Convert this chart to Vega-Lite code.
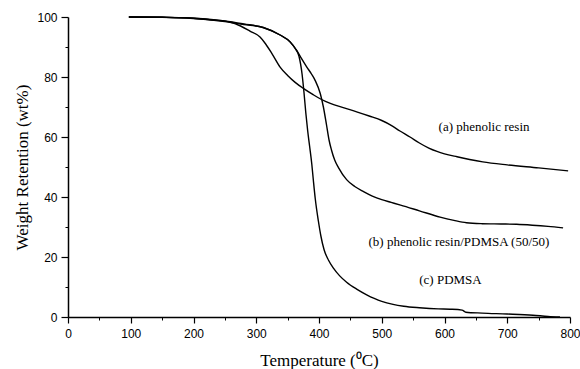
{
  "$schema": "https://vega.github.io/schema/vega-lite/v6.json",
  "width": 502,
  "height": 300,
  "autosize": {"type": "none"},
  "padding": {"left": 68, "top": 17, "right": 10, "bottom": 52},
  "background": "white",
  "config": {"view": {"stroke": null}},
  "datasets": {
    "curves": [
      {"series": "a", "T": 97, "W": 100}, {"series": "a", "T": 150, "W": 99.9}, {"series": "a", "T": 200, "W": 99.5}, {"series": "a", "T": 230, "W": 99}, {"series": "a", "T": 258, "W": 98.3}, {"series": "a", "T": 275, "W": 97}, {"series": "a", "T": 290, "W": 95.3}, {"series": "a", "T": 306, "W": 93.3}, {"series": "a", "T": 315, "W": 91}, {"series": "a", "T": 325, "W": 87.8}, {"series": "a", "T": 338, "W": 83.3}, {"series": "a", "T": 350, "W": 80.5}, {"series": "a", "T": 362, "W": 78.2}, {"series": "a", "T": 375, "W": 76.2}, {"series": "a", "T": 390, "W": 74.2}, {"series": "a", "T": 404, "W": 72.5}, {"series": "a", "T": 418, "W": 71.2}, {"series": "a", "T": 440, "W": 69.7}, {"series": "a", "T": 460, "W": 68.4}, {"series": "a", "T": 480, "W": 67}, {"series": "a", "T": 500, "W": 65.5}, {"series": "a", "T": 515, "W": 63.9}, {"series": "a", "T": 529, "W": 62.0}, {"series": "a", "T": 545, "W": 60.0}, {"series": "a", "T": 560, "W": 58}, {"series": "a", "T": 575, "W": 56.3}, {"series": "a", "T": 588, "W": 55.2}, {"series": "a", "T": 600, "W": 54.4}, {"series": "a", "T": 620, "W": 53.4}, {"series": "a", "T": 640, "W": 52.5}, {"series": "a", "T": 661, "W": 51.7}, {"series": "a", "T": 700, "W": 50.7}, {"series": "a", "T": 750, "W": 49.7}, {"series": "a", "T": 797, "W": 48.7},
      {"series": "b", "T": 97, "W": 100}, {"series": "b", "T": 150, "W": 99.9}, {"series": "b", "T": 200, "W": 99.6}, {"series": "b", "T": 250, "W": 98.5}, {"series": "b", "T": 280, "W": 97.5}, {"series": "b", "T": 311, "W": 96.5}, {"series": "b", "T": 338, "W": 94}, {"series": "b", "T": 354, "W": 91.7}, {"series": "b", "T": 364.5, "W": 88.9}, {"series": "b", "T": 372, "W": 86.2}, {"series": "b", "T": 380.6, "W": 83.3}, {"series": "b", "T": 388, "W": 81}, {"series": "b", "T": 394, "W": 78.8}, {"series": "b", "T": 402, "W": 74.5}, {"series": "b", "T": 407, "W": 70}, {"series": "b", "T": 412, "W": 64}, {"series": "b", "T": 416, "W": 59}, {"series": "b", "T": 420, "W": 55.6}, {"series": "b", "T": 425, "W": 52.3}, {"series": "b", "T": 431, "W": 49.8}, {"series": "b", "T": 444, "W": 45.8}, {"series": "b", "T": 457, "W": 43.5}, {"series": "b", "T": 471, "W": 41.8}, {"series": "b", "T": 485, "W": 40.3}, {"series": "b", "T": 500, "W": 39.1}, {"series": "b", "T": 515, "W": 38.2}, {"series": "b", "T": 530, "W": 37.3}, {"series": "b", "T": 560, "W": 35.4}, {"series": "b", "T": 593, "W": 33.3}, {"series": "b", "T": 615, "W": 32.2}, {"series": "b", "T": 635, "W": 31.4}, {"series": "b", "T": 660, "W": 31.1}, {"series": "b", "T": 690, "W": 31}, {"series": "b", "T": 715, "W": 30.9}, {"series": "b", "T": 740, "W": 30.6}, {"series": "b", "T": 765, "W": 30.2}, {"series": "b", "T": 789, "W": 29.7},
      {"series": "c", "T": 97, "W": 100}, {"series": "c", "T": 150, "W": 99.9}, {"series": "c", "T": 200, "W": 99.6}, {"series": "c", "T": 250, "W": 98.7}, {"series": "c", "T": 280, "W": 97.7}, {"series": "c", "T": 311, "W": 96.5}, {"series": "c", "T": 338, "W": 94}, {"series": "c", "T": 354, "W": 91.7}, {"series": "c", "T": 362, "W": 89.5}, {"series": "c", "T": 368, "W": 87}, {"series": "c", "T": 373, "W": 81}, {"series": "c", "T": 376, "W": 75}, {"series": "c", "T": 379, "W": 68}, {"series": "c", "T": 382, "W": 62}, {"series": "c", "T": 385, "W": 57}, {"series": "c", "T": 388.5, "W": 51}, {"series": "c", "T": 391, "W": 45.6}, {"series": "c", "T": 394, "W": 39.5}, {"series": "c", "T": 399, "W": 32}, {"series": "c", "T": 403, "W": 27}, {"series": "c", "T": 408, "W": 22.5}, {"series": "c", "T": 415, "W": 19}, {"series": "c", "T": 423, "W": 16.3}, {"series": "c", "T": 433, "W": 13.7}, {"series": "c", "T": 444, "W": 11.6}, {"series": "c", "T": 460, "W": 9.3}, {"series": "c", "T": 476, "W": 7.4}, {"series": "c", "T": 488, "W": 6.2}, {"series": "c", "T": 500, "W": 5.2}, {"series": "c", "T": 518, "W": 4.2}, {"series": "c", "T": 535, "W": 3.6}, {"series": "c", "T": 560, "W": 3.1}, {"series": "c", "T": 590, "W": 2.7}, {"series": "c", "T": 609, "W": 2.6}, {"series": "c", "T": 628, "W": 2.3}, {"series": "c", "T": 634, "W": 1.6}, {"series": "c", "T": 660, "W": 1.3}, {"series": "c", "T": 700, "W": 1.0}, {"series": "c", "T": 741, "W": 0.6}, {"series": "c", "T": 765, "W": 0.2}, {"series": "c", "T": 784, "W": 0}
    ],
    "labels": [
      {"label": "(a) phenolic resin", "T": 663, "W": 63.2},
      {"label": "(b) phenolic resin/PDMSA (50/50)", "T": 623, "W": 25},
      {"label": "(c) PDMSA", "T": 609.5, "W": 12.2}
    ]
  },
  "layer": [
    {
      "data": {"name": "curves"},
      "mark": {"type": "line", "color": "black", "strokeWidth": 1.4, "interpolate": "monotone"},
      "encoding": {
        "x": {"field": "T", "type": "quantitative", "scale": {"domain": [0, 800], "nice": false},
          "axis": {"title": "Temperature (⁰C)", "values": [0, 100, 200, 300, 400, 500, 600, 700, 800], "grid": false,
            "domainColor": "black", "domainWidth": 1.5, "tickColor": "black", "tickWidth": 1.2, "tickSize": 6,
            "labelFont": "Liberation Sans", "labelFontSize": 12, "labelColor": "black", "labelPadding": 5, "labelFlush": false,
            "titleFont": "Liberation Serif", "titleFontSize": 17, "titleFontWeight": "normal", "titleColor": "black", "titlePadding": 13}},
        "y": {"field": "W", "type": "quantitative", "scale": {"domain": [0, 100], "nice": false},
          "axis": {"title": "Weight Retention (wt%)", "values": [0, 20, 40, 60, 80, 100], "grid": false,
            "domainColor": "black", "domainWidth": 1.5, "tickColor": "black", "tickWidth": 1.2, "tickSize": 7,
            "labelFont": "Liberation Sans", "labelFontSize": 12, "labelColor": "black", "labelPadding": 4, "labelFlush": false,
            "titleFont": "Liberation Serif", "titleFontSize": 17, "titleFontWeight": "normal", "titleColor": "black", "titlePadding": 5}},
        "detail": {"field": "series"}
      }
    },
    {
      "data": {"name": "labels"},
      "mark": {"type": "text", "font": "Liberation Serif", "fontSize": 13, "color": "black", "align": "center", "baseline": "middle"},
      "encoding": {
        "x": {"field": "T", "type": "quantitative", "scale": {"domain": [0, 800], "nice": false},
          "axis": {"orient": "bottom", "title": null, "values": [50, 150, 250, 350, 450, 550, 650, 750], "labels": false, "domain": false, "grid": false, "tickColor": "black", "tickWidth": 1, "tickSize": 3}},
        "y": {"field": "W", "type": "quantitative", "scale": {"domain": [0, 100], "nice": false},
          "axis": {"orient": "left", "title": null, "values": [10, 30, 50, 70, 90], "labels": false, "domain": false, "grid": false, "tickColor": "black", "tickWidth": 1, "tickSize": 3}},
        "text": {"field": "label"}
      }
    }
  ],
  "resolve": {"axis": {"x": "independent", "y": "independent"}}
}
